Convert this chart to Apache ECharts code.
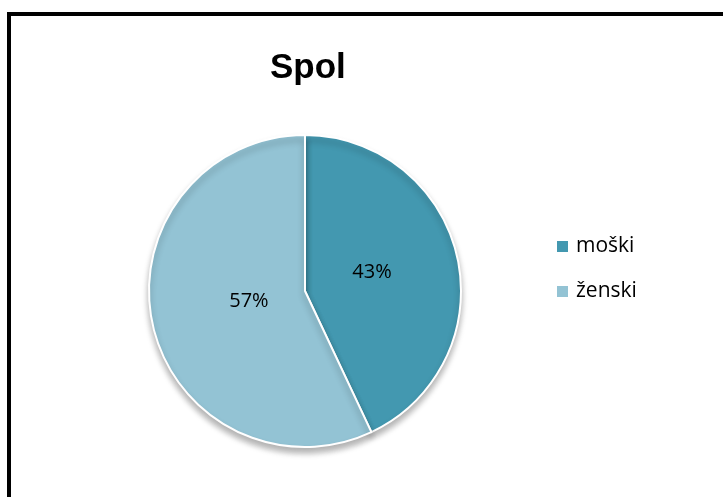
<!DOCTYPE html>
<html><head><meta charset="utf-8">
<script src="https://cdn.jsdelivr.net/npm/echarts@6/dist/echarts.min.js"></script>
<style>
html,body{margin:0;padding:0;background:#fff;overflow:hidden;}
#frame{position:absolute;left:7px;top:12px;width:740px;height:520px;border:4px solid #000;box-sizing:border-box;}
#chart{position:absolute;left:0;top:0;width:723px;height:497px;}
</style></head>
<body>
<div id="frame"></div>
<div id="chart"></div>
<script>
const categories = ['moški', 'ženski'];
const values = [43, 57];
const colors = ['#4398B0', '#93C3D4'];
const labelOffsets = [[-12, -1], [23, -7]];

const chart = echarts.init(document.getElementById('chart'), null, {renderer:'canvas'});
chart.setOption({
  animation:false,
  title:{text:'Spol', left:265, top:46,
    textStyle:{fontFamily:'Liberation Sans', fontWeight:'bold', fontSize:35, color:'#000'}},
  legend:{orient:'vertical', left:552, top:231, itemWidth:11, itemHeight:11, itemGap:24,
    icon:'rect', data:categories,
    itemStyle:{borderWidth:0, shadowBlur:0, shadowOffsetY:0, shadowColor:'transparent'},
    textStyle:{fontFamily:'Open Sans', fontSize:21, color:'#000', padding:[0,0,0,3]}},
  series:[{
    type:'pie', center:[305,291], radius:156, startAngle:90, clockwise:true,
    data: categories.map((c,i)=>({name:c, value:values[i], itemStyle:{color:colors[i]},
      label:{offset:labelOffsets[i]}})),
    itemStyle:{borderColor:'#fff', borderWidth:2, shadowBlur:6, shadowOffsetY:5, shadowColor:'rgba(0,0,0,0.3)'},
    label:{position:'inside', formatter:'{c}%', fontFamily:'Open Sans', fontSize:20, color:'#000'},
    labelLine:{show:false}
  }]
});
</script>
</body></html>
